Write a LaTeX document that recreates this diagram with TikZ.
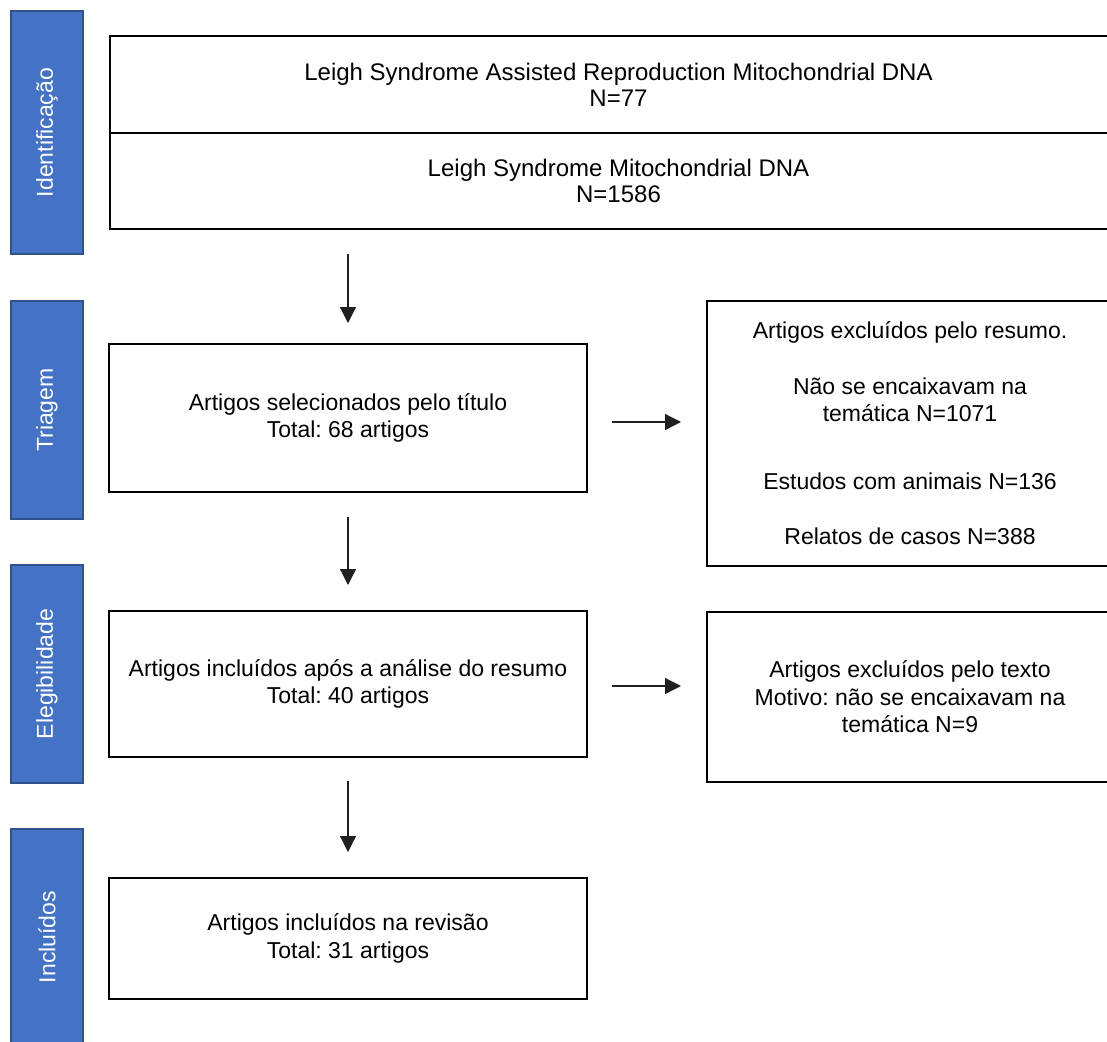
\documentclass[tikz,border=0pt]{standalone}
\usepackage{fontspec}
\setmainfont{Liberation Sans}
\usetikzlibrary{arrows.meta}
\definecolor{barblue}{HTML}{4472C4}
\definecolor{barline}{HTML}{2F528F}
\definecolor{arrgray}{HTML}{202020}
\frenchspacing
\begin{document}
\begin{tikzpicture}[x=1pt,y=-1pt,
  bar/.style={draw=barline,line width=1.5pt,fill=barblue,inner sep=0pt,minimum width=72pt,
    font=\fontsize{23}{27}\selectfont,text=white},
  bartext/.style={rotate=90,text=white,font=\fontsize{23}{27}\selectfont},
  box/.style={draw=black,line width=2pt,inner sep=0pt,align=center,
    font=\fontsize{23}{27.5}\selectfont},
  arr/.style={draw=arrgray,line width=1.2pt,-{Triangle[length=16pt,width=16pt]}}
]
\useasboundingbox (0,0) rectangle (1107,1041);
% side bars
\node[bar,minimum height=243pt] (b1) at (47,132.5) {};
\node[bartext] (t1) at (b1.center) {Identificação};
\node[bar,minimum height=218pt] (b2) at (47,410) {};
\node[bartext] (t2) at (b2.center) {Triagem};
\node[bar,minimum height=218pt] (b3) at (47,674) {};
\node[bartext] (t3) at (b3.center) {Elegibilidade};
\node[bar,minimum height=216pt] (b4) at (47,937) {};
\node[bartext] (t4) at (b4.center) {Incluídos};
% boxes
\node[box,minimum width=1017pt,minimum height=97pt,font=\fontsize{24}{26}\selectfont] (top1) at (618.5,84.5)
  {Leigh Syndrome Assisted Reproduction Mitochondrial DNA\\N=77};
\node[box,minimum width=1017pt,minimum height=96pt,font=\fontsize{24}{26}\selectfont] (top2) at (618.5,181)
  {Leigh Syndrome Mitochondrial DNA\\N=1586};
\node[box,minimum width=478pt,minimum height=148pt] (tri) at (348,418)
  {Artigos selecionados pelo título\\Total: 68 artigos};
\node[box,minimum width=406pt,minimum height=265pt] (exc1) at (910,433.5)
  {Artigos excluídos pelo resumo.\\[28pt]Não se encaixavam na\\ temática N=1071\\[40pt]Estudos com animais N=136\\[28pt]Relatos de casos N=388};
\node[box,minimum width=478pt,minimum height=146pt] (ele) at (348,684)
  {Artigos incluídos após a análise do resumo\\Total: 40 artigos};
\node[box,minimum width=406pt,minimum height=170pt] (exc2) at (910,697)
  {Artigos excluídos pelo texto\\Motivo: não se encaixavam na\\temática N=9};
\node[box,minimum width=478pt,minimum height=121pt] (inc) at (348,938.5)
  {Artigos incluídos na revisão\\Total: 31 artigos};
% arrows
\draw[arr,shorten <=24pt,shorten >=20pt] (top2.south -| tri.north) -- (tri.north);
\draw[arr,shorten <=24pt,shorten >=25pt] (tri.south) -- (ele.north);
\draw[arr,shorten <=23pt,shorten >=25pt] (ele.south) -- (inc.north);
\draw[arr,shorten <=24pt,shorten >=25pt] ([yshift=-4pt]tri.east) -- ([yshift=-4pt]tri.east -| exc1.west);
\draw[arr,shorten <=24pt,shorten >=25pt] ([yshift=-2pt]ele.east) -- ([yshift=-2pt]ele.east -| exc2.west);
\end{tikzpicture}
\end{document}
